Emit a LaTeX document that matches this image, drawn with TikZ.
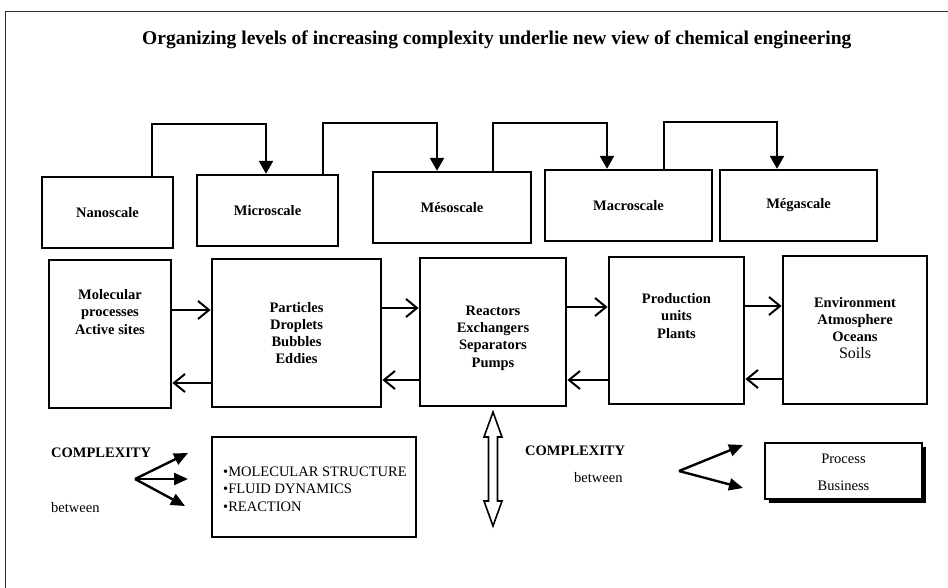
\documentclass[tikz,border=0pt]{standalone}
\usepackage{fontspec}
\setmainfont{Liberation Serif}
\usetikzlibrary{arrows.meta,shadows}
\begin{document}
\begin{tikzpicture}[x=1pt,y=-1pt,
 box/.style={draw, line width=2.4pt, inner sep=0pt, fill=white},
 bigbox/.style={box, line width=2.8pt},
 lbl/.style={font=\fontsize{14.5}{17.3}\selectfont\bfseries, align=center, inner sep=0pt},
 reg/.style={font=\fontsize{14.5}{17.3}\selectfont, inner sep=0pt},
 toparrow/.style={line width=2.4pt, -{Triangle[length=13pt,width=14pt]}},
 flow/.style={line width=2pt, -{Straight Barb[length=11pt,width=18pt]}},
 fan/.style={line width=2.4pt, -{Triangle[length=14pt,width=12pt]}}]
\useasboundingbox (0,0) rectangle (948,588);
\draw[line width=1pt, black!80] (5,588) -- (5,12) -- (948,12);

\node[font=\fontsize{19.5}{22}\selectfont\bfseries, anchor=base west, inner sep=0pt] (title) at (142,45)
  {Organizing levels of increasing complexity underlie new view of chemical engineering};

% top row
\node[box, lbl, minimum width=131pt, minimum height=71pt] (nano)  at (107.5,212.5) {Nanoscale};
\node[box, lbl, minimum width=141pt, minimum height=71pt] (micro) at (267.5,210.5) {Microscale};
\node[box, lbl, minimum width=158pt, minimum height=71pt] (meso)  at (452,207.5)   {Mésoscale};
\node[box, lbl, minimum width=167pt, minimum height=71pt] (macro) at (628.5,205.5) {Macroscale};
\node[box, lbl, minimum width=157pt, minimum height=71pt] (mega)  at (798.5,205.5) {Mégascale};

\draw[toparrow] (nano.north -| 152,0) -- (152,124) -- (266,124) -- (micro.north -| 266,0);
\draw[toparrow] (micro.north -| 323,0) -- (323,123) -- (437,123) -- (meso.north -| 437,0);
\draw[toparrow] (meso.north -| 493,0) -- (493,123) -- (607,123) -- (macro.north -| 607,0);
\draw[toparrow] (macro.north -| 664,0) -- (664,122) -- (777,122) -- (mega.north -| 777,0);

% second row
\node[bigbox, minimum width=122pt, minimum height=148pt] (mol)  at (110,334) {};
\node[bigbox, minimum width=169pt, minimum height=148pt] (part) at (296.5,333) {};
\node[bigbox, minimum width=146pt, minimum height=148pt] (reac) at (493,332) {};
\node[bigbox, minimum width=135pt, minimum height=147pt] (prod) at (676.5,330.5) {};
\node[bigbox, minimum width=144pt, minimum height=148pt] (env)  at (855,330) {};

\node[lbl] (molT)  at (110,312)   {Molecular\\processes\\Active sites};
\node[lbl] (partT) at (296.5,333) {Particles\\Droplets\\Bubbles\\Eddies};
\node[lbl] (reacT) at (493,338)   {Reactors\\Exchangers\\Separators\\Pumps};
\node[lbl] (prodT) at (676.5,316) {Production\\units\\Plants};
\node[lbl] (envT)  at (855,328)   {Environment\\Atmosphere\\Oceans\\{\mdseries\fontsize{16}{17.3}\selectfont Soils}};

\draw[flow] (mol.east |- 0,310)  -- (part.west |- 0,310);
\draw[flow] (part.west |- 0,383) -- (mol.east |- 0,383);
\draw[flow] (part.east |- 0,308) -- (reac.west |- 0,308);
\draw[flow] (reac.west |- 0,380) -- (part.east |- 0,380);
\draw[flow] (reac.east |- 0,307) -- (prod.west |- 0,307);
\draw[flow] (prod.west |- 0,380) -- (reac.east |- 0,380);
\draw[flow] (prod.east |- 0,306) -- (env.west |- 0,306);
\draw[flow] (env.west |- 0,379)  -- (prod.east |- 0,379);

% bottom left
\node[lbl, anchor=west] (cx1) at (51,453) {COMPLEXITY};
\node[reg, anchor=west] (bt1) at (51,508) {between};
\coordinate (fanL) at (135,479);
\coordinate (fL1) at (188,453);
\coordinate (fL2) at (188,479);
\coordinate (fL3) at (185,506);
\draw[fan] (fanL) -- (fL1);
\draw[fan] (fanL) -- (fL2);
\draw[fan] (fanL) -- (fL3);
\node[box, minimum width=204pt, minimum height=100pt] (struct) at (314,487) {};
\node[reg, anchor=west, align=left] (structT) at (223,489)
  {\textbullet MOLECULAR STRUCTURE\\\textbullet FLUID DYNAMICS\\\textbullet REACTION};

% double arrow
\draw[line width=1.6pt, fill=white] (493,412) -- (502,437) -- (497.5,437) -- (497.5,501) -- (502,501)
  -- (493,526) -- (484,501) -- (488.5,501) -- (488.5,437) -- (484,437) -- cycle;

% bottom right
\node[lbl, anchor=west] (cx2) at (525,451) {COMPLEXITY};
\node[reg, anchor=west] (bt2) at (574,478) {between};
\coordinate (fanR) at (679,471);
\coordinate (fR1) at (743,445);
\coordinate (fR2) at (743,488);
\draw[fan] (fanR) -- (fR1);
\draw[fan] (fanR) -- (fR2);
\node[box, minimum width=157pt, minimum height=56pt,
  drop shadow={shadow xshift=4pt, shadow yshift=-4pt, fill=black, opacity=1}] (proc) at (843.5,471) {};
\node[reg, align=center, font=\fontsize{14.5}{27}\selectfont] (procT) at (843.5,472) {Process\\Business};
\end{tikzpicture}
\end{document}
